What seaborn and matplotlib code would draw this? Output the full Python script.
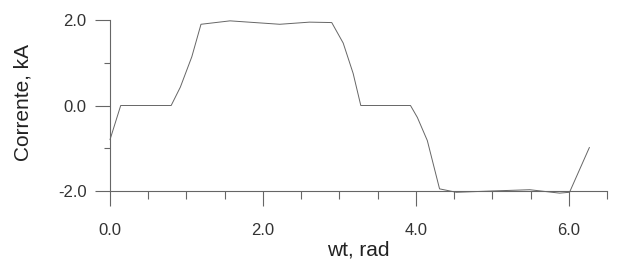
import numpy as np
import pandas as pd
import matplotlib
matplotlib.use("Agg")
import matplotlib.pyplot as plt
import seaborn as sns
from matplotlib.ticker import MultipleLocator, FormatStrFormatter

# data
wt = [0.0, 0.14, 0.80, 0.92, 1.07, 1.19, 1.57, 2.22, 2.61, 2.90,
      3.05, 3.18, 3.28, 3.93, 4.02, 4.15, 4.31, 4.53, 4.99, 5.49,
      5.88, 6.01, 6.27]
corrente = [-0.80, 0.0, 0.0, 0.43, 1.14, 1.90, 1.98, 1.90, 1.95, 1.94,
            1.46, 0.75, 0.0, 0.0, -0.28, -0.82, -1.95, -2.03, -2.00, -1.97,
            -2.05, -2.03, -0.98]

df = pd.DataFrame({"wt": wt, "corrente": corrente})

sns.set_style("ticks")
plt.rcParams["font.family"] = ["Liberation Sans", "DejaVu Sans"]

fig = plt.figure(figsize=(6.19, 2.61), dpi=100)
ax = fig.add_axes([110 / 619, 1 - 191 / 261, 497 / 619, 171 / 261])

sns.lineplot(data=df, x="wt", y="corrente", sort=False,
             color="#666666", linewidth=0.7, ax=ax, clip_on=False)

ax.set_xlim(0, 6.5)
ax.set_ylim(-2.0, 2.0)

ax.xaxis.set_major_locator(MultipleLocator(2.0))
ax.xaxis.set_minor_locator(MultipleLocator(0.5))
ax.yaxis.set_major_locator(MultipleLocator(2.0))
ax.yaxis.set_minor_locator(MultipleLocator(1.0))
ax.xaxis.set_major_formatter(FormatStrFormatter("%.1f"))
ax.yaxis.set_major_formatter(FormatStrFormatter("%.1f"))

ax.tick_params(axis="x", which="major", direction="out", length=11, width=0.8,
               pad=12, labelsize=12, color="#666666", labelcolor="#333333")
ax.tick_params(axis="x", which="minor", direction="out", length=6, width=0.8,
               color="#666666")
ax.tick_params(axis="y", which="major", direction="out", length=11, width=0.8,
               pad=6, labelsize=12, color="#666666", labelcolor="#333333")
ax.tick_params(axis="y", which="minor", direction="out", length=4, width=0.8,
               color="#666666")

for side in ["top", "right"]:
    ax.spines[side].set_visible(False)
for side in ["left", "bottom"]:
    ax.spines[side].set_color("#666666")
    ax.spines[side].set_linewidth(0.8)

ax.set_xlabel("wt, rad", fontsize=15, color="#222222")
ax.set_ylabel("Corrente, kA", fontsize=15, color="#222222")
ax.xaxis.set_label_coords(0.5, -0.29)
ax.yaxis.set_label_coords(-0.155, 0.52)

fig.savefig("out.png", dpi=100)
